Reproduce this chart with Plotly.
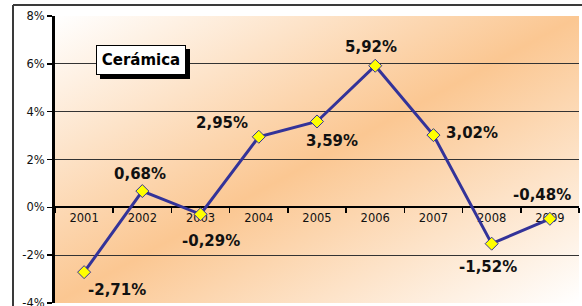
import plotly.graph_objects as go
import urllib.parse

# ---- data ----
years = ["2001", "2002", "2003", "2004", "2005", "2006", "2007", "2008", "2009"]
values = [-2.71, 0.68, -0.29, 2.95, 3.59, 5.92, 3.02, -1.52, -0.48]
y_tick_vals = [-4, -2, 0, 2, 4, 6, 8]
y_tick_text = ["-4%", "-2%", "0%", "2%", "4%", "6%", "8%"]
title_text = "Cerámica"

# label text (Spanish decimal comma)
labels = [f"{v:.2f}%".replace(".", ",") for v in values]

# label pixel offsets (style only)
label_shift = [(33, -18), (-2, 17), (10, -27), (-37, 14), (15, -20),
               (-4, 19), (39, 2), (-4, -23), (-8, 24)]

W, H = 582, 306
ML, MR, MT, MB = 55, 3, 16, 3
PW, PH = W - ML - MR, H - MT - MB

def px_x(p):
    return (p - ML) / PW

def px_y(p):
    return (H - MB - p) / PH

FONT = "DejaVu Sans"

fig = go.Figure()
fig.add_trace(go.Scatter(
    x=years, y=values, mode="lines+markers",
    line=dict(color="#333399", width=3),
    marker=dict(symbol="diamond", size=10, color="#FFFF00",
                line=dict(color="#333399", width=1)),
    hoverinfo="skip", showlegend=False, cliponaxis=False,
))

annotations = []
for i, (v, t, (dx, dy)) in enumerate(zip(values, labels, label_shift)):
    annotations.append(dict(
        x=i, y=v, xref="x", yref="y", text=f"<b>{t}</b>", showarrow=False,
        xshift=dx, yshift=dy,
        font=dict(family=FONT, size=15, color="#111111"),
    ))

# title box
annotations.append(dict(
    xref="paper", yref="paper",
    x=px_x(141), y=px_y(60.5), xanchor="center", yanchor="middle",
    text=f"<b>{title_text}</b>", showarrow=False,
    width=86, height=26, bgcolor="white",
    bordercolor="black", borderwidth=1, borderpad=1,
    font=dict(family=FONT, size=15, color="black"),
))

shapes = [
    # title box shadow
    dict(type="rect", xref="paper", yref="paper", layer="above",
         x0=px_x(100), x1=px_x(190), y0=px_y(79), y1=px_y(49),
         fillcolor="black", line=dict(width=0)),
    # outer chart border (top and left visible)
    dict(type="line", xref="paper", yref="paper",
         x0=px_x(13), x1=px_x(600), y0=px_y(5), y1=px_y(5),
         line=dict(color="#3a3a3a", width=2)),
    dict(type="line", xref="paper", yref="paper",
         x0=px_x(13), x1=px_x(13), y0=px_y(5), y1=px_y(320),
         line=dict(color="#3a3a3a", width=2)),
]

svg = (
    "<svg xmlns='http://www.w3.org/2000/svg' width='524' height='287' "
    "viewBox='0 0 524 287' preserveAspectRatio='none'>"
    "<defs><linearGradient id='g' x1='0' y1='0' x2='1' y2='1'>"
    "<stop offset='0' stop-color='#FFFFFF'/>"
    "<stop offset='0.5' stop-color='#FBC792'/>"
    "<stop offset='1' stop-color='#FFFFFF'/>"
    "</linearGradient></defs>"
    "<rect x='0' y='0' width='524' height='287' fill='url(#g)'/></svg>"
)
src = "data:image/svg+xml;charset=utf-8," + urllib.parse.quote(svg)

fig.update_layout(
    width=W, height=H,
    margin=dict(l=ML, r=MR, t=MT, b=MB, pad=0, autoexpand=False),
    paper_bgcolor="white", plot_bgcolor="rgba(0,0,0,0)",
    font=dict(family=FONT, size=11, color="#111111"),
    annotations=annotations, shapes=shapes,
    images=[dict(source=src, xref="paper", yref="paper", x=0, y=1,
                 sizex=1, sizey=1, sizing="stretch", layer="below",
                 xanchor="left", yanchor="top")],
    xaxis=dict(
        type="category", categoryorder="array", categoryarray=years,
        range=[-0.5, 8.5], anchor="free", position=4 / 12,
        showline=True, linecolor="black", linewidth=2,
        ticks="outside", ticklen=5, tickwidth=1.5, tickcolor="black",
        tickson="boundaries", showgrid=False, zeroline=False,
        tickfont=dict(family=FONT, size=11.5, color="#111111"),
        layer="below traces", fixedrange=True, automargin=False,
    ),
    yaxis=dict(
        range=[-4, 8], tickvals=y_tick_vals, ticktext=y_tick_text,
        showgrid=True, gridcolor="#333333", gridwidth=1,
        showline=True, linecolor="black", linewidth=3,
        ticks="outside", ticklen=5, tickwidth=1.5, tickcolor="black",
        zeroline=False, ticklabeloverflow="allow",
        tickfont=dict(family=FONT, size=11.5, color="#111111"),
        layer="below traces", fixedrange=True, automargin=False,
    ),
)

fig.write_html(
    "out.html",
    config={"displayModeBar": False, "staticPlot": True},
    post_script="document.body.style.margin='0';document.body.style.padding='0';",
)
